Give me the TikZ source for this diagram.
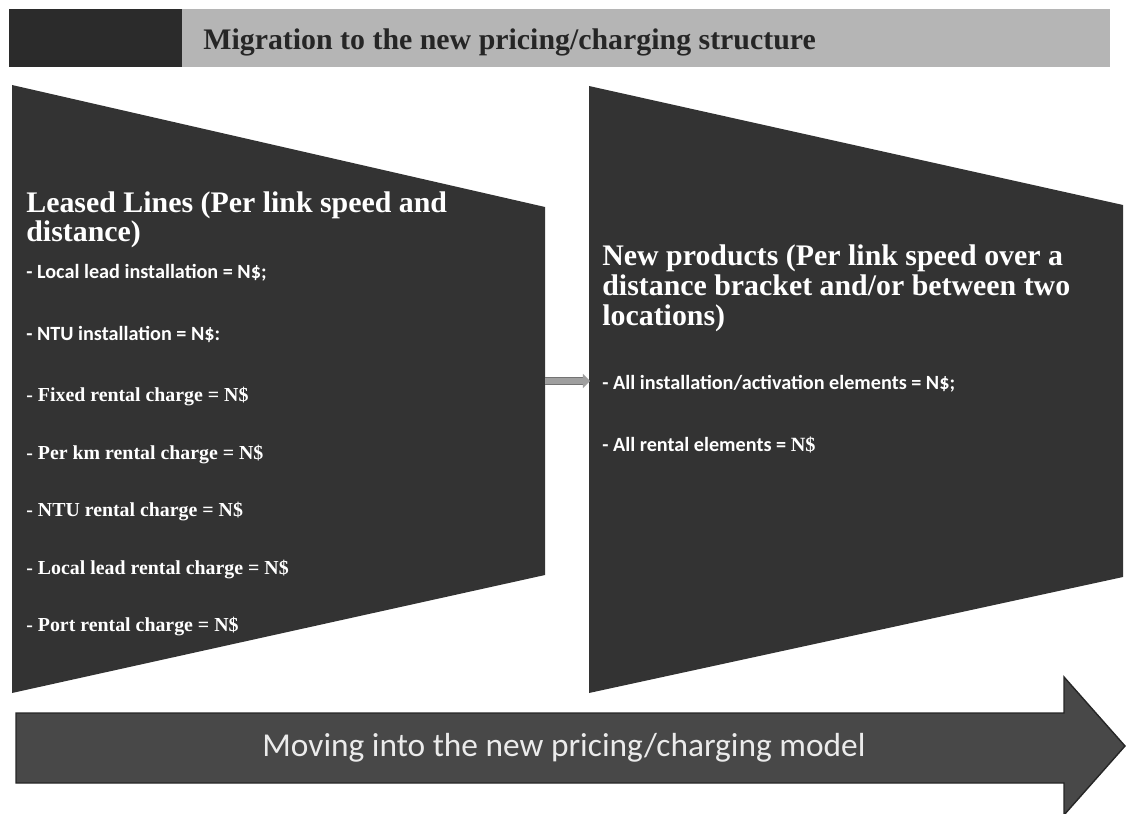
\documentclass[tikz,border=0pt]{standalone}
\usepackage{fontspec}
\setmainfont{Liberation Serif}
\newfontfamily\calibfont{Carlito}
\usetikzlibrary{arrows.meta,positioning}
\definecolor{panelgray}{HTML}{333333}
\definecolor{bannerdark}{HTML}{2B2B2B}
\definecolor{bannerlight}{HTML}{B5B5B5}
\definecolor{movegray}{HTML}{484848}

\begin{document}
\begin{tikzpicture}[x=0.02cm,y=-0.02cm,
  panel/.style={fill=panelgray},
  head/.style={anchor=base west,align=left,text=white,inner sep=0pt,font=\fontsize{17}{17}\selectfont\bfseries},
  item/.style={anchor=base west,text=white,inner sep=0pt,font=\fontsize{11.3}{13}\selectfont\bfseries},
  sitem/.style={anchor=base west,text=white,inner sep=0pt,font=\fontsize{11.5}{13}\selectfont\calibfont\bfseries}]
  \useasboundingbox (0,0) rectangle (1126,814);
  % ---- banner
  \fill[bannerdark] (9,9) rectangle (182,67);
  \fill[bannerlight] (182,9) rectangle (1110,67);
  \node[anchor=base west,inner sep=0pt,text=black!85,font=\fontsize{17}{17}\selectfont\bfseries] (title) at (203,50) {Migration to the new pricing/charging structure};
  % ---- old structure
  \fill[panel] (12,85) -- (545,207) -- (545,575) -- (12,693) -- cycle;
  \coordinate (oldout) at (545,381);
  \node[head] (oldhead) at (26,242) {Leased Lines (Per link speed and\\distance)};
  \node[sitem] (old1) at (26,278) {- Local lead installation = N\$;};
  \node[sitem] (old2) at (26,340) {- NTU installation = N\$:};
  \foreach \txt/\yy [count=\i from 3] in {Fixed rental charge/401,Per km rental charge/459,NTU rental charge/516,Local lead rental charge/574,Port rental charge/631}
    \node[item] (old\i) at (26,\yy) {- \txt{} = N\$};
  % ---- new structure
  \fill[panel] (589,86) -- (1123,205) -- (1123,577) -- (589,693) -- cycle;
  \coordinate (newin) at (590,381);
  \node[head] (newhead) at (602,325) {New products (Per link speed over a\\distance bracket and/or between two\\locations)};
  \node[sitem] (new1) at (602,389) {- All installation/activation elements = N\$;};
  \node[sitem] (new2) at (602,451) {- All rental elements = {\rmfamily N\$}};
  % link between the two
  \draw[line width=5pt,draw=black!55] (oldout) -- ++(40,0);
  \draw[line width=3pt,draw=gray!75,-{Triangle[length=4pt,width=8pt]}] (oldout) -- (newin);
  % ---- bottom arrow
  \draw[fill=movegray,draw=black!85,line width=0.8pt] (16,713) -- (1064,713) -- (1064,677) -- (1125,746) -- (1064,815) -- (1064,783) -- (16,783) -- cycle;
  \node[text=white!92!black,font=\fontsize{19}{19}\selectfont\calibfont] (movetext) at (564,748) {Moving into the new pricing/charging model};
\end{tikzpicture}
\end{document}
